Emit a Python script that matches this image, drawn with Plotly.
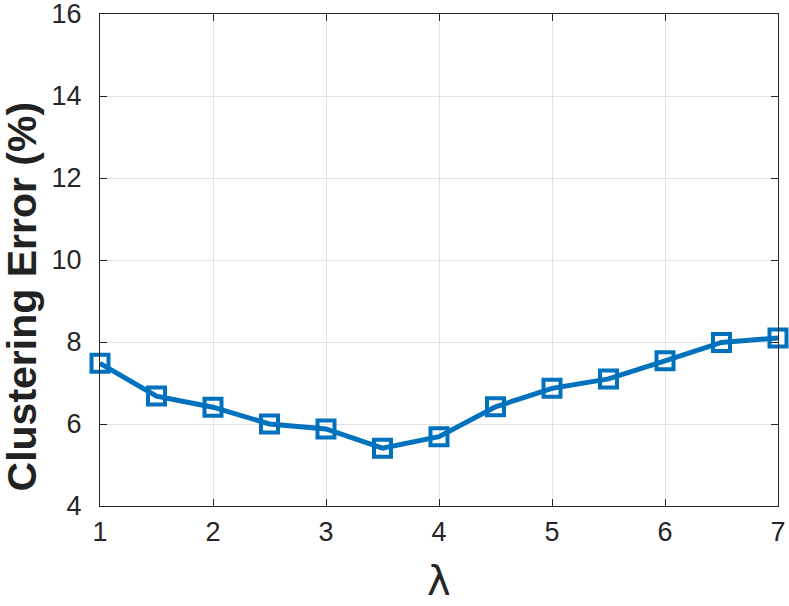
import plotly.graph_objects as go

# lambda values and clustering error (%)
lam = [1, 1.5, 2, 2.5, 3, 3.5, 4, 4.5, 5, 5.5, 6, 6.5, 7]
err = [7.48, 6.68, 6.41, 6.0, 5.88, 5.41, 5.69, 6.42, 6.87, 7.1, 7.54, 7.99, 8.1]

blue = '#0072BD'

fig = go.Figure()
fig.add_trace(go.Scatter(x=lam, y=err, mode='lines+markers',
                         line=dict(color=blue, width=5),
                         marker=dict(symbol='square-open', size=17, color=blue,
                                     line=dict(color=blue, width=4)),
                         cliponaxis=False, showlegend=False))

axis_common = dict(showgrid=True, gridcolor='#e3e3e3', gridwidth=1,
                   showline=True, linecolor='#262626', linewidth=1, mirror='ticks',
                   ticks='inside', ticklen=7, tickcolor='#262626', zeroline=False,
                   automargin=False, ticklabeloverflow='allow',
                   tickfont=dict(family='Liberation Sans', size=27, color='#262626'))

fig.update_xaxes(range=[1, 7], dtick=1, ticklabelstandoff=2, **axis_common)
fig.update_yaxes(range=[4, 16], dtick=2, ticklabelstandoff=12, **axis_common)

# axis labels placed as annotations
fig.add_annotation(text='<b>Clustering Error (%)</b>', textangle=-90,
                   xref='paper', yref='paper', x=-0.115, y=0.426,
                   xanchor='center', yanchor='middle', showarrow=False,
                   font=dict(family='Liberation Sans', size=41, color='#222222'))
fig.add_annotation(text='λ', xref='paper', yref='paper', x=0.5, y=-0.1524,
                   xanchor='center', yanchor='middle', showarrow=False,
                   font=dict(family='DejaVu Sans', size=40, color='#262626'))

fig.update_layout(width=789, height=606, plot_bgcolor='white', paper_bgcolor='white',
                  margin=dict(l=100, r=11, t=14, b=100))

fig.write_html("out.html", config={'displayModeBar': False},
               post_script="document.body.style.margin='0';")
